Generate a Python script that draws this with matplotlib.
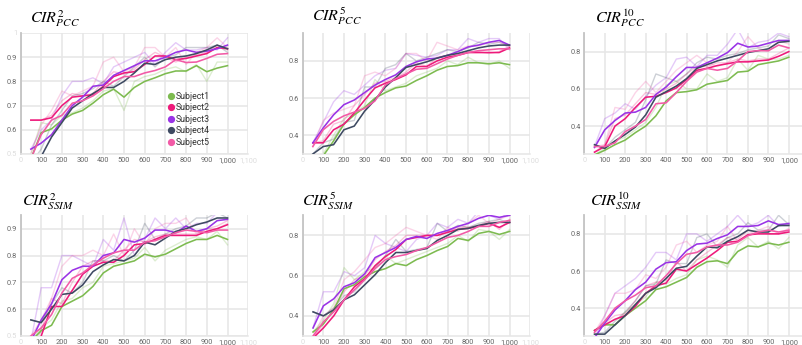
import matplotlib
matplotlib.use("Agg")
import matplotlib.pyplot as plt
from matplotlib.lines import Line2D

plt.rcParams['font.family'] = ['Roboto', 'DejaVu Sans']
plt.rcParams['mathtext.fontset'] = 'stix'

steps = [50, 100, 150, 200, 250, 300, 350, 400, 450, 500,
         550, 600, 650, 700, 750, 800, 850, 900, 950, 1000]
subjects = ['Subject1', 'Subject2', 'Subject3', 'Subject4', 'Subject5']
colors = ['#7dbb50', '#ee1a7a', '#9a33e6', '#3e4a62', '#f25aa6']
titles = [r'$CIR^{2}_{PCC}$', r'$CIR^{5}_{PCC}$', r'$CIR^{10}_{PCC}$',
          r'$CIR^{2}_{SSIM}$', r'$CIR^{5}_{SSIM}$', r'$CIR^{10}_{SSIM}$']

# ---- CIR^2 PCC ----
pcc2_s1 = [0.48,0.588,0.604,0.64,0.665,0.68,0.71,0.745,0.768,0.735,0.775,0.80,0.815,0.832,0.843,0.843,0.865,0.84,0.855,0.865]
pcc2_s1_raw = [0.50,0.63,0.62,0.66,0.67,0.69,0.72,0.76,0.77,0.68,0.80,0.82,0.83,0.85,0.86,0.84,0.87,0.80,0.88,0.88]
pcc2_s2 = [0.64,0.64,0.65,0.70,0.735,0.74,0.745,0.78,0.82,0.835,0.84,0.87,0.905,0.905,0.89,0.895,0.905,0.915,0.94,0.935]
pcc2_s2_raw = [0.64,0.64,0.66,0.72,0.75,0.74,0.75,0.80,0.84,0.83,0.85,0.89,0.92,0.90,0.88,0.90,0.91,0.92,0.95,0.93]
pcc2_s3 = [0.52,0.545,0.58,0.64,0.70,0.735,0.78,0.785,0.825,0.845,0.865,0.885,0.885,0.90,0.92,0.93,0.92,0.925,0.935,0.95]
pcc2_s3_raw = [0.52,0.60,0.64,0.74,0.80,0.80,0.815,0.79,0.86,0.88,0.90,0.92,0.87,0.92,0.96,0.93,0.93,0.94,0.93,0.98]
pcc2_s4 = [0.46,0.49,0.57,0.63,0.69,0.72,0.75,0.775,0.775,0.80,0.835,0.875,0.87,0.89,0.90,0.905,0.915,0.93,0.95,0.935]
pcc2_s4_raw = [0.46,0.52,0.62,0.68,0.74,0.75,0.77,0.80,0.78,0.82,0.86,0.90,0.86,0.90,0.91,0.94,0.94,0.94,0.95,0.92]
pcc2_s5 = [0.48,0.58,0.64,0.66,0.71,0.72,0.74,0.77,0.80,0.82,0.82,0.835,0.845,0.86,0.89,0.878,0.88,0.895,0.912,0.915]
pcc2_s5_raw = [0.50,0.62,0.68,0.76,0.74,0.76,0.78,0.88,0.90,0.84,0.86,0.94,0.94,0.90,0.94,0.87,0.92,0.94,0.98,0.94]

# ---- CIR^5 PCC ----
pcc5_s1 = [0.25,0.29,0.37,0.46,0.51,0.55,0.60,0.63,0.655,0.665,0.695,0.72,0.75,0.77,0.775,0.79,0.79,0.785,0.79,0.78]
pcc5_s1_raw = [0.25,0.30,0.40,0.49,0.52,0.56,0.70,0.64,0.66,0.68,0.72,0.74,0.76,0.80,0.78,0.82,0.79,0.78,0.80,0.76]
pcc5_s2 = [0.36,0.36,0.43,0.46,0.52,0.59,0.655,0.68,0.70,0.725,0.77,0.77,0.80,0.82,0.83,0.845,0.845,0.845,0.845,0.87]
pcc5_s2_raw = [0.36,0.37,0.46,0.48,0.56,0.62,0.68,0.69,0.71,0.74,0.79,0.77,0.82,0.83,0.84,0.85,0.85,0.84,0.85,0.88]
pcc5_s3 = [0.36,0.44,0.51,0.565,0.59,0.63,0.67,0.70,0.725,0.77,0.795,0.81,0.815,0.83,0.85,0.875,0.885,0.90,0.91,0.885]
pcc5_s3_raw = [0.36,0.47,0.58,0.64,0.62,0.67,0.72,0.75,0.76,0.84,0.83,0.82,0.83,0.86,0.86,0.92,0.90,0.92,0.92,0.86]
pcc5_s4 = [0.30,0.34,0.35,0.43,0.45,0.53,0.59,0.66,0.71,0.765,0.78,0.795,0.815,0.83,0.84,0.855,0.87,0.88,0.885,0.885]
pcc5_s4_raw = [0.30,0.36,0.38,0.47,0.48,0.66,0.66,0.76,0.78,0.84,0.80,0.82,0.84,0.86,0.85,0.87,0.90,0.89,0.90,0.88]
pcc5_s5 = [0.34,0.43,0.475,0.505,0.525,0.545,0.585,0.67,0.705,0.73,0.755,0.76,0.785,0.81,0.83,0.845,0.855,0.86,0.865,0.865]
pcc5_s5_raw = [0.34,0.48,0.52,0.54,0.56,0.72,0.74,0.72,0.76,0.84,0.84,0.80,0.90,0.88,0.86,0.88,0.88,0.90,0.90,0.88]

# ---- CIR^10 PCC ----
pcc10_s1 = [0.245,0.27,0.30,0.325,0.365,0.40,0.455,0.535,0.58,0.585,0.595,0.625,0.635,0.645,0.69,0.695,0.73,0.74,0.75,0.77]
pcc10_s1_raw = [0.245,0.28,0.32,0.34,0.38,0.42,0.50,0.62,0.64,0.60,0.60,0.68,0.64,0.66,0.76,0.70,0.78,0.76,0.76,0.78]
pcc10_s2 = [0.26,0.29,0.40,0.44,0.50,0.555,0.56,0.58,0.605,0.65,0.70,0.71,0.725,0.735,0.745,0.745,0.75,0.755,0.775,0.80]
pcc10_s2_raw = [0.26,0.30,0.44,0.46,0.52,0.58,0.57,0.60,0.63,0.68,0.72,0.72,0.74,0.74,0.76,0.75,0.76,0.76,0.79,0.82]
pcc10_s3 = [0.285,0.38,0.43,0.47,0.475,0.50,0.57,0.61,0.665,0.715,0.715,0.74,0.765,0.795,0.845,0.825,0.83,0.845,0.86,0.86]
pcc10_s3_raw = [0.29,0.44,0.47,0.52,0.49,0.56,0.62,0.66,0.76,0.77,0.72,0.78,0.78,0.84,0.92,0.82,0.85,0.86,0.90,0.88]
pcc10_s4 = [0.30,0.28,0.32,0.355,0.395,0.46,0.555,0.585,0.615,0.655,0.71,0.73,0.75,0.765,0.78,0.795,0.805,0.815,0.85,0.855]
pcc10_s4_raw = [0.30,0.28,0.34,0.38,0.42,0.54,0.68,0.66,0.64,0.68,0.74,0.77,0.76,0.78,0.79,0.81,0.82,0.83,0.89,0.87]
pcc10_s5 = [0.29,0.29,0.31,0.37,0.40,0.435,0.52,0.525,0.58,0.64,0.69,0.71,0.70,0.71,0.75,0.80,0.805,0.805,0.835,0.82]
pcc10_s5_raw = [0.29,0.30,0.50,0.49,0.58,0.64,0.58,0.64,0.70,0.74,0.78,0.74,0.72,0.74,0.80,0.88,0.82,0.80,0.86,0.84]

# ---- CIR^2 SSIM ----
ssim2_s1 = [0.48,0.52,0.54,0.61,0.63,0.65,0.685,0.735,0.76,0.77,0.78,0.805,0.795,0.805,0.825,0.845,0.86,0.86,0.875,0.86]
ssim2_s1_raw = [0.48,0.53,0.56,0.63,0.64,0.68,0.70,0.76,0.77,0.78,0.79,0.83,0.78,0.82,0.84,0.86,0.87,0.86,0.89,0.84]
ssim2_s2 = [0.45,0.50,0.61,0.61,0.67,0.73,0.76,0.775,0.775,0.80,0.84,0.845,0.86,0.875,0.875,0.875,0.875,0.89,0.90,0.915]
ssim2_s2_raw = [0.45,0.52,0.64,0.62,0.70,0.76,0.78,0.78,0.78,0.82,0.86,0.85,0.87,0.88,0.88,0.88,0.88,0.90,0.91,0.93]
ssim2_s3 = [0.48,0.56,0.62,0.71,0.745,0.76,0.76,0.80,0.81,0.86,0.85,0.865,0.895,0.895,0.885,0.91,0.89,0.90,0.93,0.935]
ssim2_s3_raw = [0.48,0.68,0.68,0.80,0.80,0.78,0.76,0.86,0.82,0.94,0.80,0.86,0.94,0.90,0.94,0.90,0.92,0.92,0.96,0.96]
ssim2_s4 = [0.56,0.55,0.60,0.655,0.66,0.69,0.74,0.765,0.785,0.78,0.80,0.85,0.84,0.865,0.89,0.90,0.915,0.925,0.94,0.94]
ssim2_s4_raw = [0.56,0.55,0.62,0.68,0.66,0.70,0.78,0.78,0.80,0.78,0.82,0.92,0.86,0.88,0.90,0.91,0.94,0.94,0.96,0.94]
ssim2_s5 = [0.50,0.53,0.58,0.66,0.715,0.735,0.765,0.79,0.81,0.82,0.82,0.85,0.855,0.87,0.885,0.895,0.89,0.885,0.895,0.895]
ssim2_s5_raw = [0.50,0.56,0.64,0.76,0.80,0.80,0.82,0.80,0.88,0.80,0.90,0.84,0.90,0.92,0.92,0.94,0.88,0.90,0.90,0.92]

# ---- CIR^5 SSIM ----
ssim5_s1 = [0.32,0.36,0.43,0.535,0.555,0.595,0.62,0.635,0.66,0.65,0.68,0.70,0.725,0.745,0.785,0.775,0.81,0.82,0.805,0.82]
ssim5_s1_raw = [0.32,0.38,0.46,0.64,0.58,0.62,0.64,0.70,0.66,0.68,0.70,0.72,0.74,0.76,0.80,0.77,0.83,0.82,0.78,0.83]
ssim5_s2 = [0.29,0.34,0.40,0.48,0.545,0.585,0.65,0.695,0.73,0.78,0.79,0.80,0.80,0.815,0.83,0.835,0.845,0.86,0.84,0.865]
ssim5_s2_raw = [0.29,0.36,0.43,0.52,0.58,0.60,0.68,0.72,0.75,0.80,0.80,0.80,0.80,0.82,0.84,0.84,0.85,0.87,0.83,0.88]
ssim5_s3 = [0.34,0.45,0.485,0.545,0.565,0.61,0.69,0.715,0.74,0.78,0.795,0.785,0.81,0.825,0.845,0.86,0.885,0.90,0.89,0.90]
ssim5_s3_raw = [0.34,0.52,0.52,0.62,0.60,0.64,0.80,0.76,0.74,0.72,0.78,0.80,0.86,0.84,0.88,0.86,0.92,0.90,0.88,0.92]
ssim5_s4 = [0.42,0.40,0.43,0.48,0.505,0.555,0.605,0.665,0.715,0.715,0.725,0.735,0.775,0.80,0.83,0.835,0.85,0.86,0.865,0.865]
ssim5_s4_raw = [0.42,0.40,0.44,0.50,0.52,0.58,0.64,0.70,0.78,0.72,0.73,0.74,0.86,0.82,0.85,0.84,0.86,0.87,0.88,0.86]
ssim5_s5 = [0.30,0.37,0.42,0.48,0.53,0.58,0.635,0.68,0.695,0.705,0.725,0.74,0.765,0.79,0.80,0.82,0.845,0.845,0.865,0.875]
ssim5_s5_raw = [0.30,0.40,0.44,0.58,0.62,0.68,0.74,0.76,0.80,0.84,0.82,0.80,0.78,0.84,0.82,0.86,0.90,0.86,0.88,0.90]

# ---- CIR^10 SSIM ----
ssim10_s1 = [0.28,0.31,0.31,0.36,0.40,0.44,0.50,0.515,0.54,0.565,0.62,0.65,0.655,0.64,0.705,0.735,0.73,0.75,0.74,0.755]
ssim10_s1_raw = [0.28,0.32,0.31,0.38,0.42,0.46,0.54,0.53,0.56,0.58,0.66,0.68,0.66,0.62,0.74,0.78,0.73,0.76,0.72,0.78]
ssim10_s2 = [0.28,0.31,0.34,0.36,0.41,0.48,0.52,0.535,0.61,0.60,0.635,0.67,0.71,0.755,0.76,0.795,0.80,0.80,0.80,0.81]
ssim10_s2_raw = [0.28,0.32,0.36,0.37,0.44,0.52,0.54,0.55,0.65,0.60,0.66,0.70,0.74,0.78,0.77,0.82,0.81,0.80,0.80,0.82]
ssim10_s3 = [0.24,0.32,0.39,0.44,0.50,0.54,0.61,0.645,0.65,0.71,0.745,0.75,0.775,0.795,0.84,0.84,0.845,0.87,0.85,0.855]
ssim10_s3_raw = [0.24,0.36,0.48,0.52,0.56,0.62,0.70,0.70,0.66,0.80,0.80,0.76,0.80,0.84,0.90,0.84,0.86,0.90,0.84,0.86]
ssim10_s4 = [0.26,0.26,0.31,0.36,0.42,0.48,0.51,0.56,0.615,0.625,0.68,0.73,0.725,0.76,0.785,0.82,0.81,0.81,0.845,0.845]
ssim10_s4_raw = [0.26,0.27,0.33,0.38,0.44,0.52,0.53,0.66,0.64,0.64,0.78,0.80,0.73,0.78,0.80,0.86,0.82,0.82,0.90,0.85]
ssim10_s5 = [0.27,0.33,0.40,0.44,0.47,0.51,0.52,0.575,0.64,0.69,0.70,0.73,0.74,0.74,0.755,0.79,0.81,0.82,0.81,0.82]
ssim10_s5_raw = [0.27,0.36,0.48,0.48,0.50,0.58,0.56,0.62,0.74,0.76,0.70,0.74,0.76,0.84,0.76,0.80,0.82,0.84,0.80,0.83]

panels_smooth = [
    [pcc2_s1, pcc2_s2, pcc2_s3, pcc2_s4, pcc2_s5],
    [pcc5_s1, pcc5_s2, pcc5_s3, pcc5_s4, pcc5_s5],
    [pcc10_s1, pcc10_s2, pcc10_s3, pcc10_s4, pcc10_s5],
    [ssim2_s1, ssim2_s2, ssim2_s3, ssim2_s4, ssim2_s5],
    [ssim5_s1, ssim5_s2, ssim5_s3, ssim5_s4, ssim5_s5],
    [ssim10_s1, ssim10_s2, ssim10_s3, ssim10_s4, ssim10_s5],
]
panels_raw = [
    [pcc2_s1_raw, pcc2_s2_raw, pcc2_s3_raw, pcc2_s4_raw, pcc2_s5_raw],
    [pcc5_s1_raw, pcc5_s2_raw, pcc5_s3_raw, pcc5_s4_raw, pcc5_s5_raw],
    [pcc10_s1_raw, pcc10_s2_raw, pcc10_s3_raw, pcc10_s4_raw, pcc10_s5_raw],
    [ssim2_s1_raw, ssim2_s2_raw, ssim2_s3_raw, ssim2_s4_raw, ssim2_s5_raw],
    [ssim5_s1_raw, ssim5_s2_raw, ssim5_s3_raw, ssim5_s4_raw, ssim5_s5_raw],
    [ssim10_s1_raw, ssim10_s2_raw, ssim10_s3_raw, ssim10_s4_raw, ssim10_s5_raw],
]
ylims = [(0.5, 1.0), (0.3, 0.95), (0.25, 0.9), (0.5, 0.95), (0.3, 0.9), (0.25, 0.9)]
yticks = [[0.5, 0.6, 0.7, 0.8, 0.9, 1.0], [0.4, 0.6, 0.8], [0.4, 0.6, 0.8],
          [0.5, 0.6, 0.7, 0.8, 0.9], [0.4, 0.6, 0.8], [0.4, 0.6, 0.8]]
xticks = list(range(0, 1200, 100))

W, H = 802, 345
fig = plt.figure(figsize=(W / 100, H / 100), dpi=100)

# axes placement in pixels: left, top, bottom, width(0..1100)
lefts = [20.5, 302.5, 584.3, 20.5, 302.7, 584.3]
widths = [227.7, 227.7, 225.0, 227.7, 227.7, 225.0]
tops = [33, 33, 33, 215.3, 215.3, 215.3]
bottoms = [154, 154, 154, 336, 336, 336]
title_pos = [(30.5, 23), (311.5, 21), (595, 23), (22.5, 205.5), (302.5, 205.5), (590, 205.5)]

for i in range(6):
    l, w, t, b = lefts[i], widths[i], tops[i], bottoms[i]
    ax = fig.add_axes([l / W, 1 - b / H, w / W, (b - t) / H])
    for k in range(5):
        ax.plot(steps, panels_raw[i][k], color=colors[k], lw=1.0, alpha=0.26,
                zorder=2)
    for k in range(5):
        ax.plot(steps, panels_smooth[i][k], color=colors[k], lw=1.15, zorder=3)
    ax.set_xlim(0, 1100)
    ax.set_ylim(*ylims[i])
    ax.set_xticks(xticks)
    clipped = i in (2, 5)
    ax.set_xticklabels(['' if (clipped and v == 1100) else f'{v:,}' for v in xticks])
    ax.set_yticks(yticks[i])
    ax.set_yticklabels([f'{v:g}' for v in yticks[i]])
    ax.tick_params(length=0, labelsize=5.3, labelcolor='#666666', pad=2.5)
    for lab, v in zip(ax.get_xticklabels(), xticks):
        if v in (0, 1100):
            lab.set_color('#dddddd')
    for lab, v in zip(ax.get_yticklabels(), yticks[i]):
        if abs(v - ylims[i][0]) < 1e-9 or abs(v - ylims[i][1]) < 1e-9:
            lab.set_color('#dddddd')
    ax.grid(True, color='#e6e6e6', lw=1.1, zorder=0)
    ax.set_axisbelow(True)
    for s in ('top', 'right'):
        ax.spines[s].set_visible(False)
    ax.spines['left'].set_color('#c4c4c4')
    ax.spines['left'].set_linewidth(1.3)
    ax.spines['bottom'].set_color('#e6e6e6')
    ax.spines['bottom'].set_linewidth(1.1)
    ax.set_facecolor('white')
    tx, ty = title_pos[i]
    fig.text(tx / W, 1 - ty / H, titles[i], fontsize=11.5, va='baseline', ha='left')
    if i == 0:
        handles = [Line2D([], [], marker='o', ls='none', color=c, markersize=4.2)
                   for c in colors]
        fig.legend(handles, subjects, loc='upper left',
                   bbox_to_anchor=(168 / W, 1 - 92 / H), frameon=False,
                   fontsize=6.3, handlelength=0.6, handletextpad=0.25,
                   labelspacing=0.28, borderpad=0, borderaxespad=0,
                   labelcolor='#333333')

fig.savefig('out.png', dpi=100, facecolor='white')
